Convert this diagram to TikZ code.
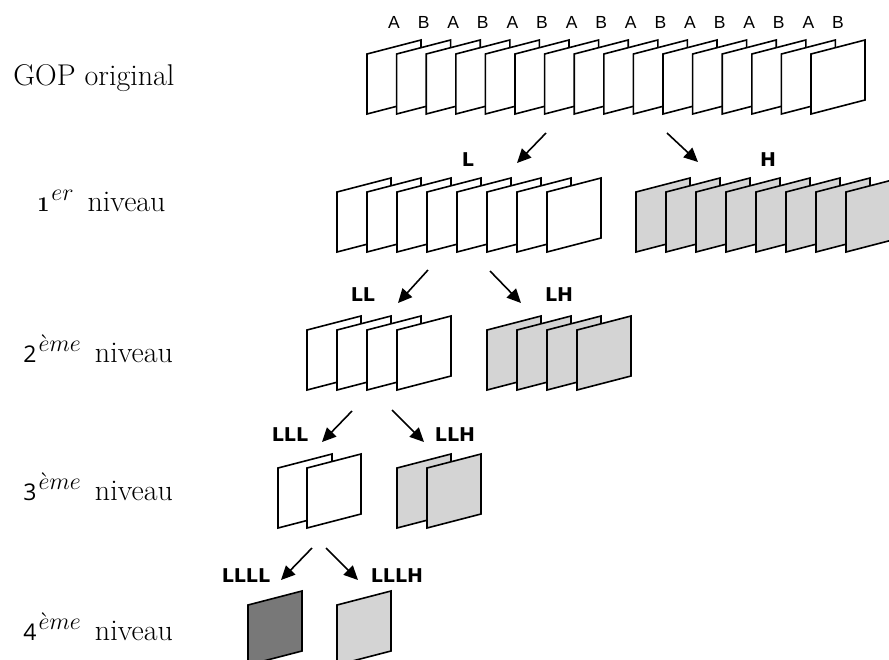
\documentclass[tikz,border=0pt]{standalone}
\usepackage{fontspec}
\newfontfamily\lettres{Liberation Sans}
\newfontfamily\bandes{DejaVu Sans}
\newfontfamily\chiffres{Open Sans}
\usetikzlibrary{arrows.meta}
\definecolor{grisclair}{gray}{0.83}
\definecolor{grisfonce}{gray}{0.47}
\DeclareMathSizes{15}{15}{12}{9}

\begin{document}
\begin{tikzpicture}[x=0.5pt, y=-0.5pt,
        pics/vue/.style={code={\draw[line width=0.8pt, fill=#1] (0,0) -- (54,-14) -- (54,46) -- (0,60) -- cycle;}},
        niveau/.style={anchor=base west, inner sep=0pt, font=\fontsize{15}{18}\selectfont},
        bande/.style={inner sep=0pt, font=\bandes\bfseries\fontsize{9.5}{11}\selectfont},
        ab/.style={inner sep=0pt, font=\lettres\fontsize{8.75}{10}\selectfont},
        fleche/.style={line width=0.8pt, -{Triangle[length=7pt, width=6.5pt]}}]
        \useasboundingbox (0,0) rectangle (889,659);

        \node[niveau] (n0) at (13,85) {GOP original};
        \node[niveau] (n1) at (37,211) {{\bfseries\fontsize{10.5}{12}\selectfont 1}\kern1pt$^{er}$\kern2pt{} niveau};
        \node[niveau] (n2) at (23,362) {{\chiffres\fontsize{11.5}{13}\selectfont 2}\kern1pt$^{\grave{e}me}$\kern2pt{} niveau};
        \node[niveau] (n3) at (23,500) {{\chiffres\fontsize{11.5}{13}\selectfont 3}\kern1pt$^{\grave{e}me}$\kern2pt{} niveau};
        \node[niveau] (n4) at (23,640) {{\chiffres\fontsize{11.5}{13}\selectfont 4}\kern1pt$^{\grave{e}me}$\kern2pt{} niveau};

        \foreach \l [count=\i from 0] in {A,B,A,B,A,B,A,B,A,B,A,B,A,B,A,B}
            \node[ab] (l\i) at ({394+29.6*\i},22) {\l};
        \foreach \i in {0,...,15}
            \pic at ({367+29.6*\i},54) {vue=white};

        \foreach \i in {0,...,7}
            \pic at ({337+30*\i},192) {vue=white};
        \foreach \i in {0,...,7}
            \pic at ({636+30*\i},192) {vue=grisclair};

        \foreach \i in {0,...,3}
            \pic at ({307+30*\i},330) {vue=white};
        \foreach \i in {0,...,3}
            \pic at ({487+30*\i},330) {vue=grisclair};

        \pic at (278,468) {vue=white};
        \pic at (307,468) {vue=white};
        \pic at (397,468) {vue=grisclair};
        \pic at (427,468) {vue=grisclair};

        \pic at (248,605) {vue=grisfonce};
        \pic at (337,605) {vue=grisclair};

        \node[bande] (L) at (468,160) {L};
        \node[bande] (H) at (768,160) {H};
        \node[bande] (LL) at (363,295) {LL};
        \node[bande] (LH) at (559,295) {LH};
        \node[bande] (LLL) at (290,435) {LLL};
        \node[bande] (LLH) at (455,435) {LLH};
        \node[bande] (LLLL) at (246,576) {LLLL};
        \node[bande] (LLLH) at (397,576) {LLLH};

        \coordinate (dL) at (546,133);
        \coordinate (fL) at (517,163);
        \coordinate (dH) at (667,133);
        \coordinate (fH) at (698,162);
        \coordinate (dLL) at (428,270);
        \coordinate (fLL) at (398,303);
        \coordinate (dLH) at (490,271);
        \coordinate (fLH) at (521,303);
        \coordinate (dLLL) at (352,411);
        \coordinate (fLLL) at (322,442);
        \coordinate (dLLH) at (392,410);
        \coordinate (fLLH) at (424,442);
        \coordinate (dLLLL) at (312,548);
        \coordinate (fLLLL) at (281,580);
        \coordinate (dLLLH) at (326,548);
        \coordinate (fLLLH) at (358,580);

        \draw[fleche] (dL) -- (fL);
        \draw[fleche] (dH) -- (fH);
        \draw[fleche] (dLL) -- (fLL);
        \draw[fleche] (dLH) -- (fLH);
        \draw[fleche] (dLLL) -- (fLLL);
        \draw[fleche] (dLLH) -- (fLLH);
        \draw[fleche] (dLLLL) -- (fLLLL);
        \draw[fleche] (dLLLH) -- (fLLLH);
\end{tikzpicture}
\end{document}
